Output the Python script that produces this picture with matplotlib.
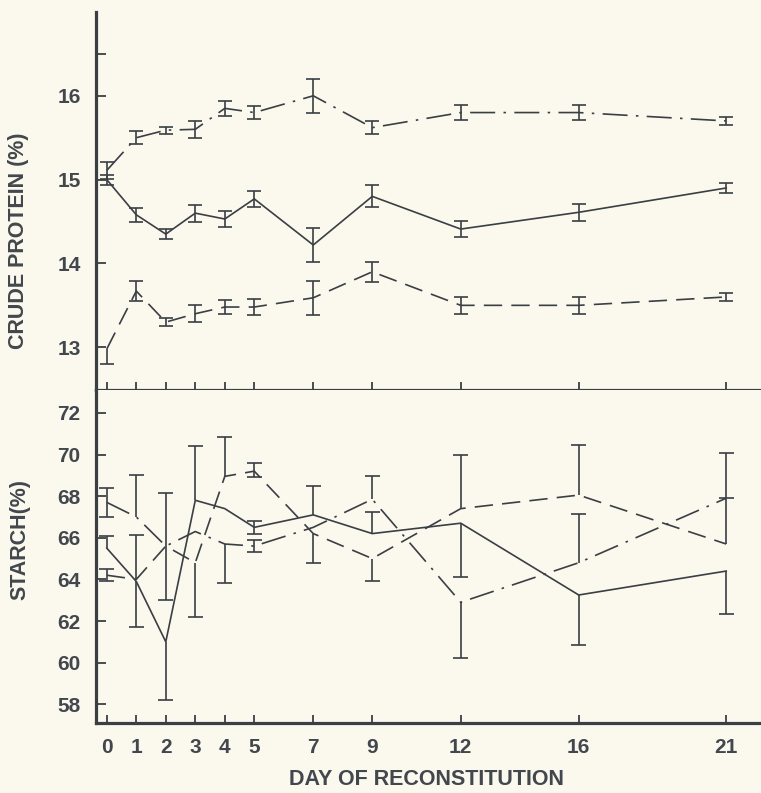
import numpy as np
import matplotlib.pyplot as plt

plt.rcParams['font.family'] = ['Liberation Sans', 'DejaVu Sans']

# ======================
# data
# ======================
days = [0, 1, 2, 3, 4, 5, 7, 9, 12, 16, 21]

# crude protein (%)
cp_dashdot = [15.11, 15.5, 15.59, 15.6, 15.85, 15.8, 16.0, 15.62, 15.8, 15.8, 15.7]
cp_dashdot_err = [0.1, 0.08, 0.04, 0.1, 0.09, 0.08, 0.2, 0.08, 0.09, 0.09, 0.05]
cp_solid = [15.0, 14.58, 14.35, 14.6, 14.53, 14.77, 14.22, 14.8, 14.41, 14.61, 14.9]
cp_solid_err = [0.06, 0.08, 0.06, 0.1, 0.1, 0.1, 0.2, 0.13, 0.1, 0.1, 0.06]
cp_dashed = [12.98, 13.67, 13.3, 13.4, 13.48, 13.48, 13.59, 13.9, 13.5, 13.5, 13.6]
cp_dashed_lo = [0.18, 0.12, 0.05, 0.1, 0.08, 0.1, 0.2, 0.12, 0.1, 0.1, 0.05]
cp_dashed_hi = [0.0, 0.12, 0.05, 0.1, 0.08, 0.1, 0.2, 0.12, 0.1, 0.1, 0.05]

# starch (%) - bars are drawn one-sided in the original
st_solid = [65.5, 63.9, 61.0, 67.8, 67.4, 66.5, 67.1, 66.2, 66.7, 63.25, 64.4]
st_solid_lo = [0, 2.2, 2.8, 0, 0, 0.3, 0, 0, 2.6, 2.4, 2.05]
st_solid_hi = [0.6, 0, 0, 2.6, 0, 0.3, 1.4, 1.05, 0, 0, 0]
st_dashdot = [67.7, 67.0, 65.6, 66.3, 65.7, 65.6, 66.5, 67.85, 62.9, 64.8, 67.9]
st_dashdot_lo = [0.7, 0, 0, 0, 1.85, 0.3, 0, 0, 2.7, 0, 0]
st_dashdot_hi = [0.7, 2.0, 2.55, 0, 0, 0.3, 0, 1.1, 0, 2.35, 2.15]
st_dashed = [64.2, 64.0, 65.6, 64.8, 68.95, 69.2, 66.2, 65.0, 67.4, 68.05, 65.7]
st_dashed_lo = [0.3, 0, 2.6, 2.6, 0, 0.3, 1.4, 1.1, 0, 0, 0]
st_dashed_hi = [0.3, 2.15, 0, 0, 1.9, 0.4, 0, 0, 2.6, 2.4, 2.2]

bg = '#fbf8ee'
ink = '#3a3f44'
txt = '#42474d'
ls_solid = '-'
ls_dashed = (0, (11, 5.5))
ls_dashdot = (0, (15, 5, 1.5, 5))


def draw(ax, y, lo, hi, ls, cap):
    x = np.array(days, dtype=float)
    y = np.array(y)
    lo = np.array(lo)
    hi = np.array(hi)
    ax.plot(x, y, color=ink, lw=1.2, linestyle=ls, zorder=3)
    ax.vlines(x, y - lo, y + hi, color=ink, lw=1.2, zorder=3)
    m = lo > 0
    ax.hlines((y - lo)[m], x[m] - cap, x[m] + cap, color=ink, lw=1.2, zorder=3)
    m = hi > 0
    ax.hlines((y + hi)[m], x[m] - cap, x[m] + cap, color=ink, lw=1.2, zorder=3)


fig = plt.figure(figsize=(7.61, 7.93), dpi=100, facecolor=bg)
ax1 = fig.add_axes([0.126, 0.5082, 0.874, 0.4767])
ax2 = fig.add_axes([0.126, 0.0883, 0.874, 0.4199])

for ax in (ax1, ax2):
    ax.set_facecolor(bg)
    ax.set_xlim(-0.37, 22.18)
    for s in ('top', 'right'):
        ax.spines[s].set_visible(False)
    for s in ('left', 'bottom'):
        ax.spines[s].set_linewidth(2.3)
        ax.spines[s].set_color(ink)
    ax.tick_params(direction='in', color=ink, width=1.3, labelcolor=txt,
                   labelsize=15)
    ax.tick_params(axis='y', length=7.5, pad=11)
    ax.tick_params(axis='x', length=6, pad=11)
    ax.set_xticks(days)

# (1) crude protein
draw(ax1, cp_dashdot, cp_dashdot_err, cp_dashdot_err, ls_dashdot, 0.24)
draw(ax1, cp_solid, cp_solid_err, cp_solid_err, ls_solid, 0.24)
draw(ax1, cp_dashed, cp_dashed_lo, cp_dashed_hi, ls_dashed, 0.24)
ax1.set_ylim(12.49, 17.0)
ax1.set_yticks([13, 14, 15, 16, 16.5])
ax1.set_yticklabels(['13', '14', '15', '16', ''], fontweight='bold')
ax1.set_xticklabels([])

# (2) starch
draw(ax2, st_solid, st_solid_lo, st_solid_hi, ls_solid, 0.25)
draw(ax2, st_dashdot, st_dashdot_lo, st_dashdot_hi, ls_dashdot, 0.25)
draw(ax2, st_dashed, st_dashed_lo, st_dashed_hi, ls_dashed, 0.25)
ax2.set_ylim(57.1, 73.1)
ax2.set_yticks([58, 60, 62, 64, 66, 68, 70, 72])
ax2.set_yticklabels([str(v) for v in [58, 60, 62, 64, 66, 68, 70, 72]],
                    fontweight='bold')
ax2.set_xticklabels([str(d) for d in days], fontweight='bold')

fig.text(0.024, 0.697, 'CRUDE PROTEIN (%)', rotation=90, ha='center',
         va='center', fontsize=15.5, fontweight='bold', color=txt)
fig.text(0.026, 0.320, 'STARCH(%)', rotation=90, ha='center',
         va='center', fontsize=15.5, fontweight='bold', color=txt)
fig.text(0.56, 0.0164, 'DAY OF RECONSTITUTION', ha='center', va='center',
         fontsize=15.5, fontweight='bold', color=txt)

fig.savefig('out.png', dpi=100, facecolor=bg)
